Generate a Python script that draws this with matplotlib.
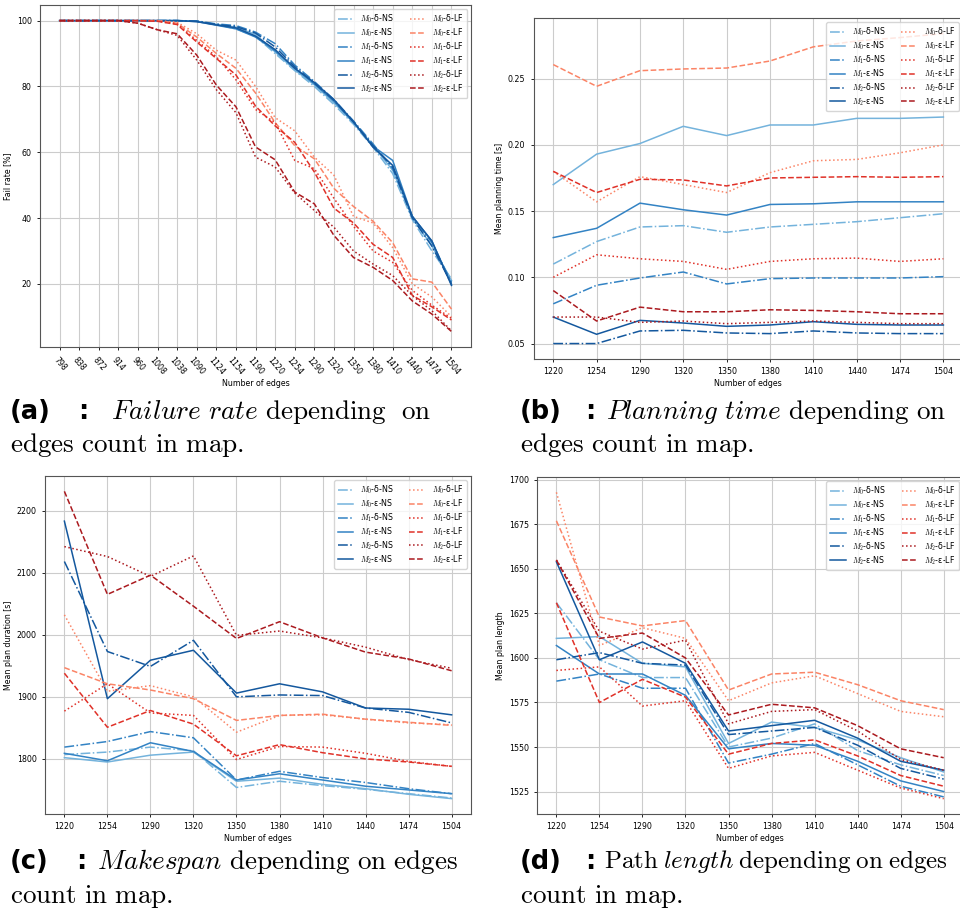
import numpy as np
import matplotlib.pyplot as plt

plt.rcParams['mathtext.fontset'] = 'cm'

# x categories
edges_a = [798, 838, 872, 914, 960, 1008, 1038, 1090, 1124, 1154, 1190,
           1220, 1254, 1290, 1320, 1350, 1380, 1410, 1440, 1474, 1504]
edges = [1220, 1254, 1290, 1320, 1350, 1380, 1410, 1440, 1474, 1504]

labels_ns = ['$M_0$-δ-NS', '$M_0$-ε-NS', '$M_1$-δ-NS', '$M_1$-ε-NS', '$M_2$-δ-NS', '$M_2$-ε-NS']
labels_lf = ['$M_0$-δ-LF', '$M_0$-ε-LF', '$M_1$-δ-LF', '$M_1$-ε-LF', '$M_2$-δ-LF', '$M_2$-ε-LF']

# (a) fail rate [%], order M0-d, M0-e, M1-d, M1-e, M2-d, M2-e
fail_ns = [
    [100]*7 + [99.8, 98.8, 97.5, 95.2, 90.0, 84.8, 80.0, 74.5, 68.5, 61.5, 53.5, 39.5, 30.0, 21.5],
    [100]*7 + [99.8, 98.9, 98.0, 95.8, 90.5, 85.0, 80.5, 75.0, 69.0, 62.0, 54.5, 40.0, 31.5, 21.0],
    [100]*7 + [99.9, 99.0, 98.5, 96.5, 93.0, 86.5, 81.5, 76.0, 69.5, 62.5, 55.0, 40.5, 32.5, 20.5],
    [100]*7 + [99.7, 98.6, 97.5, 95.0, 90.8, 85.5, 80.8, 75.5, 69.0, 61.8, 57.5, 40.5, 33.0, 19.8],
    [100]*7 + [99.8, 98.8, 98.2, 96.2, 92.0, 86.0, 81.0, 75.8, 69.2, 62.0, 55.5, 40.0, 31.5, 20.0],
    [100]*7 + [99.7, 98.7, 97.8, 95.3, 91.2, 85.5, 81.2, 76.0, 69.3, 61.5, 56.0, 40.5, 33.0, 19.5],
]
fail_lf = [
    [100, 100, 100, 100, 100, 100, 99.5, 96.0, 91.0, 88.0, 80.0, 70.5, 66.5, 58.5, 53.0, 40.5, 38.5, 31.0, 20.0, 16.0, 10.0],
    [100, 100, 100, 100, 100, 100, 99.2, 95.0, 90.0, 85.5, 78.0, 69.0, 62.0, 58.0, 49.0, 43.5, 39.0, 32.5, 21.5, 20.5, 12.3],
    [100, 100, 100, 100, 100, 99.8, 99.0, 94.0, 89.0, 82.0, 73.0, 69.0, 57.5, 55.0, 46.0, 37.5, 30.0, 26.5, 18.0, 13.5, 9.5],
    [100, 100, 100, 100, 100, 99.8, 98.8, 93.5, 88.5, 83.5, 74.0, 68.0, 63.0, 54.0, 43.0, 38.5, 32.0, 28.0, 16.5, 13.0, 9.0],
    [100, 100, 100, 100, 99.2, 97.2, 95.5, 88.0, 79.0, 72.0, 58.5, 55.5, 47.6, 42.3, 37.2, 30.0, 26.0, 22.5, 16.4, 11.8, 5.7],
    [100, 100, 100, 100, 99.2, 97.2, 96.0, 89.5, 80.4, 73.8, 61.6, 57.7, 47.9, 44.3, 34.7, 28.0, 25.0, 21.0, 14.8, 10.8, 5.5],
]

# (b) mean planning time [s]
time_ns = [
    [0.110, 0.127, 0.138, 0.139, 0.134, 0.138, 0.140, 0.142, 0.145, 0.148],
    [0.170, 0.193, 0.201, 0.214, 0.207, 0.215, 0.215, 0.220, 0.220, 0.221],
    [0.080, 0.094, 0.0995, 0.104, 0.095, 0.099, 0.0995, 0.0995, 0.0995, 0.1005],
    [0.130, 0.137, 0.156, 0.151, 0.147, 0.155, 0.1555, 0.157, 0.157, 0.157],
    [0.050, 0.050, 0.0595, 0.060, 0.058, 0.0575, 0.0595, 0.058, 0.0575, 0.0575],
    [0.070, 0.057, 0.0675, 0.0655, 0.063, 0.064, 0.0665, 0.0645, 0.064, 0.064],
]
time_lf = [
    [0.180, 0.157, 0.176, 0.170, 0.164, 0.179, 0.188, 0.189, 0.194, 0.200],
    [0.2606, 0.2442, 0.256, 0.2573, 0.258, 0.2633, 0.274, 0.2784, 0.281, 0.284],
    [0.100, 0.117, 0.114, 0.112, 0.106, 0.112, 0.114, 0.1145, 0.112, 0.114],
    [0.180, 0.164, 0.174, 0.1735, 0.169, 0.175, 0.1755, 0.176, 0.1755, 0.176],
    [0.070, 0.070, 0.066, 0.067, 0.065, 0.066, 0.067, 0.066, 0.065, 0.065],
    [0.090, 0.067, 0.0775, 0.074, 0.074, 0.0755, 0.075, 0.074, 0.0725, 0.0725],
]

# (c) mean plan duration [s]
dur_ns = [
    [1807, 1811, 1819, 1813, 1754, 1764, 1757, 1751, 1744, 1737],
    [1802, 1795, 1806, 1811, 1764, 1769, 1759, 1752, 1743, 1736],
    [1819, 1828, 1844, 1834, 1766, 1780, 1770, 1762, 1752, 1744],
    [1809, 1797, 1826, 1812, 1766, 1776, 1766, 1756, 1750, 1744],
    [2118, 1973, 1949, 1991, 1900, 1903, 1902, 1882, 1875, 1858],
    [2183, 1897, 1959, 1975, 1906, 1921, 1908, 1882, 1880, 1871],
]
dur_lf = [
    [2032, 1909, 1918, 1900, 1843, 1870, 1871, 1864, 1858, 1855],
    [1947, 1921, 1911, 1897, 1862, 1870, 1872, 1864, 1859, 1854],
    [1877, 1921, 1874, 1870, 1799, 1820, 1819, 1809, 1796, 1788],
    [1938, 1851, 1878, 1856, 1805, 1823, 1810, 1800, 1795, 1788],
    [2142, 2126, 2094, 2127, 1999, 2006, 1995, 1980, 1960, 1946],
    [2231, 2065, 2096, 2046, 1994, 2021, 1995, 1972, 1961, 1942],
]

# (d) mean plan length
len_ns = [
    [1631, 1599, 1589, 1589, 1550, 1555, 1563, 1548, 1540, 1534],
    [1611, 1612, 1597, 1595, 1552, 1564, 1561, 1554, 1544, 1536],
    [1587, 1591, 1583, 1583, 1541, 1546, 1552, 1540, 1528, 1522],
    [1607, 1591, 1591, 1579, 1549, 1552, 1551, 1542, 1531, 1525],
    [1599, 1603, 1597, 1596, 1557, 1559, 1561, 1551, 1538, 1532],
    [1654, 1599, 1609, 1597, 1559, 1562, 1565, 1555, 1542, 1537],
]
len_lf = [
    [1693, 1607, 1617, 1611, 1576, 1586, 1590, 1580, 1570, 1567],
    [1677, 1623, 1618, 1621, 1582, 1591, 1592, 1585, 1576, 1571],
    [1593, 1595, 1573, 1576, 1538, 1545, 1547, 1537, 1527, 1521],
    [1631, 1575, 1588, 1578, 1546, 1552, 1554, 1545, 1534, 1528],
    [1655, 1615, 1605, 1610, 1563, 1570, 1571, 1559, 1543, 1537],
    [1655, 1611, 1614, 1600, 1568, 1574, 1572, 1562, 1549, 1544],
]

blues = ['#74b3dc', '#74b3dc', '#3383c4', '#3383c4', '#14589e', '#14589e']
reds = ['#fb8466', '#fb8466', '#e03128', '#e03128', '#ab1a1f', '#ab1a1f']
ls_ns = ['-.', '-', '-.', '-', '-.', '-']
ls_lf = [':', '--', ':', '--', ':', '--']

fs = 5.7


def draw(ax, xcats, ns, lf, ylabel, rot=0):
    x = np.arange(len(xcats))
    for i in range(6):
        ax.plot(x, ns[i], color=blues[i], ls=ls_ns[i], lw=1.1, label=labels_ns[i])
    for i in range(6):
        ax.plot(x, lf[i], color=reds[i], ls=ls_lf[i], lw=1.1, label=labels_lf[i])
    ax.set_xticks(x)
    ax.set_xticklabels([str(e) for e in xcats], rotation=rot)
    ax.grid(True, color='#cccccc', lw=0.8)
    ax.tick_params(labelsize=fs, length=2.5, width=0.6)
    for s in ax.spines.values():
        s.set_color('#555555')
    ax.set_xlabel('Number of edges', fontsize=fs, labelpad=2)
    ax.set_ylabel(ylabel, fontsize=fs, labelpad=3)
    ax.legend(ncol=2, loc='upper right', fontsize=fs, handlelength=2.0,
              columnspacing=2.0, labelspacing=0.2, borderpad=0.45)


fig = plt.figure(figsize=(9.6, 9.23), dpi=100)
ax_a = fig.add_axes([0.0417, 0.624, 0.449, 0.3705])
ax_b = fig.add_axes([0.556, 0.611, 0.447, 0.3694])
ax_c = fig.add_axes([0.0469, 0.1181, 0.4437, 0.3662])
ax_d = fig.add_axes([0.5594, 0.1181, 0.4438, 0.3651])

draw(ax_a, edges_a, fail_ns, fail_lf, 'Fail rate [%]', rot=-50)
draw(ax_b, edges, time_ns, time_lf, 'Mean planning time [s]')
draw(ax_c, edges, dur_ns, dur_lf, 'Mean plan duration [s]')
draw(ax_d, edges, len_ns, len_lf, 'Mean plan length')

# captions
y1_top, y2_top = 0.5536, 0.5179
y1_bot, y2_bot = 0.0661, 0.0282
lab = dict(fontweight='bold', fontsize=18.5, va='center')
cap = dict(fontsize=19.5, va='center')

fig.text(0.0104, y1_top, '(a)', **lab)
fig.text(0.081, y1_top, ':', **lab)
fig.text(0.116, y1_top, r'$\mathit{Failure\ rate}\ \mathrm{depending\ \ on}$', **cap)
fig.text(0.0104, y2_top, r'$\mathrm{edges\ count\ in\ map.}$', **cap)

fig.text(0.5417, y1_top, '(b)', **lab)
fig.text(0.610, y1_top, ':', **lab)
fig.text(0.631, y1_top, r'$\mathit{Planning\ time}\ \mathrm{depending\ on}$', **cap)
fig.text(0.5417, y2_top, r'$\mathrm{edges\ count\ in\ map.}$', **cap)

fig.text(0.0104, y1_bot, '(c)', **lab)
fig.text(0.079, y1_bot, ':', **lab)
fig.text(0.101, y1_bot, r'$\mathit{Makespan}\ \mathrm{depending\ on\ edges}$', **cap)
fig.text(0.0104, y2_bot, r'$\mathrm{count\ in\ map.}$', **cap)

fig.text(0.5417, y1_bot, '(d)', **lab)
fig.text(0.610, y1_bot, ':', **lab)
fig.text(0.629, y1_bot, r'$\mathrm{Path}\;\mathit{length}\;\mathrm{depending\;on\;edges}$',
         fontsize=18, va='center')
fig.text(0.5417, y2_bot, r'$\mathrm{count\ in\ map.}$', **cap)

fig.savefig('out.png', dpi=100)
